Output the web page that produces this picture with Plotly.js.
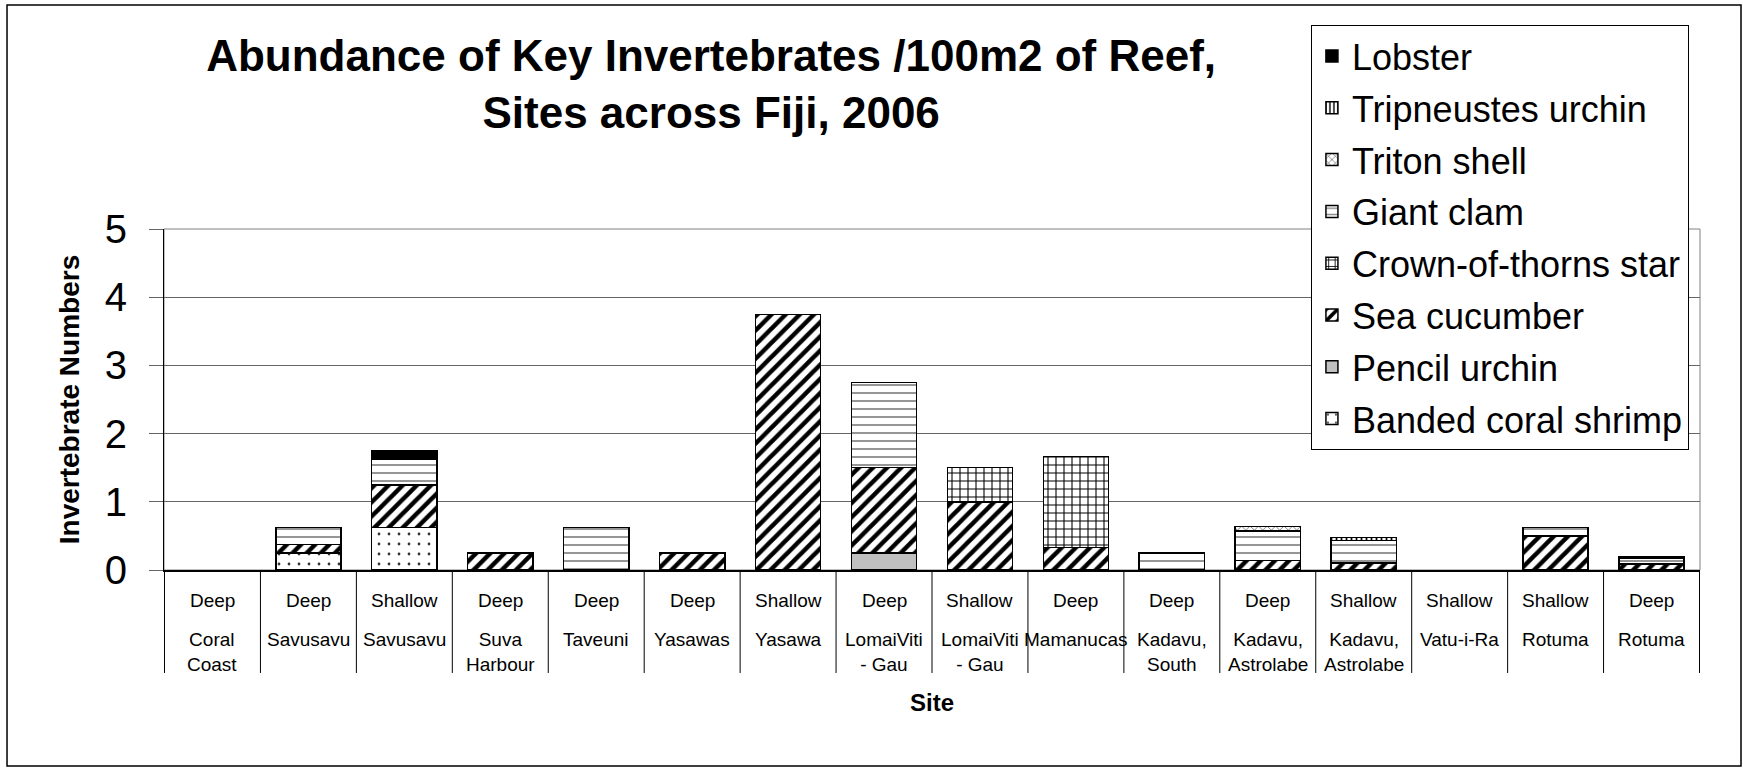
<!DOCTYPE html>
<html>
<head>
<meta charset="utf-8">
<script src="https://cdn.plot.ly/plotly-3.0.1.min.js"></script>
<style>
html,body{margin:0;padding:0;background:#fff;}
#chart{width:1743px;height:769px;}
</style>
</head>
<body>
<div id="chart"></div>
<script>
// ---- Data ----
const depths = ['Deep','Deep','Shallow','Deep','Deep','Deep','Shallow','Deep','Shallow','Deep','Deep','Deep','Shallow','Shallow','Shallow','Deep'];
const sites = ['Coral<br>Coast','Savusavu','Savusavu','Suva<br>Harbour','Taveuni','Yasawas','Yasawa','LomaiViti<br>- Gau','LomaiViti<br>- Gau','Mamanucas','Kadavu,<br>South','Kadavu,<br>Astrolabe','Kadavu,<br>Astrolabe','Vatu-i-Ra','Rotuma','Rotuma'];

const bandedCoralShrimp = [0,0.25,0.625,0,0,0,0,0,0,0,0,0,0,0,0,0];
const pencilUrchin      = [0,0,0,0,0,0,0,0.25,0,0,0,0,0,0,0,0];
const seaCucumber       = [0,0.125,0.625,0.25,0,0.25,3.75,1.25,1.0,0.333,0,0.14,0.1,0,0.5,0.09];
const crownOfThorns     = [0,0,0,0,0,0,0,0,0.5,1.333,0,0,0,0,0,0];
const giantClam         = [0,0.25,0.375,0,0.625,0,0,1.25,0,0,0.25,0.43,0.33,0,0.125,0.08];
const tritonShell       = [0,0,0,0,0,0,0,0,0,0,0,0.07,0,0,0,0];
const tripneustesUrchin = [0,0,0,0,0,0,0,0,0,0,0,0,0.05,0,0,0];
const lobster           = [0,0,0.125,0,0,0,0,0,0,0,0,0,0,0,0,0.03];

const yTicks = [0,1,2,3,4,5];

// ---- Build ----
const keys = depths.map((d,i)=> d + '|' + sites[i]);
const nz = arr => arr.map(v => v === 0 ? null : v);
const FONT = 'Liberation Sans, Arial, Helvetica, sans-serif';

const series = [
  {name:'Banded coral shrimp', y:bandedCoralShrimp, color:'#ffffff', pattern:{shape:'.', fgcolor:'#333', bgcolor:'#fff', size:10, solidity:0.06}},
  {name:'Pencil urchin', y:pencilUrchin, color:'#c0c0c0', pattern:null},
  {name:'Sea cucumber', y:seaCucumber, color:'#ffffff', pattern:{shape:'/', fgcolor:'#000', bgcolor:'#fff', size:10, solidity:0.45}},
  {name:'Crown-of-thorns star', y:crownOfThorns, color:'#ffffff', pattern:{shape:'+', fgcolor:'#000', bgcolor:'#fff', size:8, solidity:0.25}},
  {name:'Giant clam', y:giantClam, color:'#ffffff', pattern:{shape:'-', fgcolor:'#888', bgcolor:'#fff', size:8, solidity:0.22}},
  {name:'Triton shell', y:tritonShell, color:'#ffffff', pattern:{shape:'x', fgcolor:'#333', bgcolor:'#fff', size:6, solidity:0.2}},
  {name:'Tripneustes urchin', y:tripneustesUrchin, color:'#ffffff', pattern:{shape:'|', fgcolor:'#000', bgcolor:'#fff', size:5, solidity:0.35}},
  {name:'Lobster', y:lobster, color:'#000000', pattern:null}
];

const traces = series.map((s,i) => {
  const marker = {color:s.color, line:{color:'#000', width:1.5}};
  if (s.pattern) marker.pattern = s.pattern;
  return {type:'bar', name:s.name, x:keys, y:nz(s.y), marker, legendgroup:'g'+i,
    legendrank: series.length - i, hoverinfo:'name+y'};
});

const annotations = [];
keys.forEach((k,i) => {
  annotations.push({xref:'x', yref:'paper', x:k, y:-0.088, yanchor:'middle', xanchor:'center', showarrow:false,
    text:depths[i], font:{family:FONT, size:19, color:'#000'}});
  annotations.push({xref:'x', yref:'paper', x:k, y:-0.168, yanchor:'top', xanchor:'center', showarrow:false,
    text:sites[i], font:{family:FONT, size:19, color:'#000'}});
});

const shapes = [];
for (let i = 0; i <= keys.length; i++) {
  shapes.push({type:'line', xref:'x', yref:'paper', x0:i-0.5, x1:i-0.5, y0:0, y1:-0.302, line:{color:'#000', width:1}});
}
// plot area border
shapes.push({type:'rect', xref:'paper', yref:'paper', x0:0, x1:1, y0:0, y1:1, line:{color:'#808080', width:1}, layer:'below'});
// chart outer border
shapes.push({type:'rect', xref:'paper', yref:'paper', x0:-0.1022, x1:1.0267, y0:-0.575, y1:1.657, line:{color:'#000', width:1.5}});

const layout = {
  width:1743, height:769,
  margin:{l:164, r:43, t:229, b:199},
  paper_bgcolor:'#fff', plot_bgcolor:'#fff',
  font:{family:FONT, color:'#000'},
  barmode:'stack', bargap:0.32,
  title:{text:'<b>Abundance of Key Invertebrates /100m2 of Reef,<br>Sites across Fiji, 2006</b>',
    xref:'container', x:0.408, xanchor:'center', yref:'container', y:0.908, yanchor:'top',
    font:{family:FONT, size:44, color:'#000'}},
  xaxis:{type:'category', categoryorder:'array', categoryarray:keys, showticklabels:false, ticks:'',
    showgrid:false, showline:true, linecolor:'#000', linewidth:1.5, zeroline:false,
    title:{text:'<b>Site</b>', font:{family:FONT, size:24, color:'#000'}, standoff:123}},
  yaxis:{range:[0,5], tickvals:yTicks, ticktext:yTicks.map(String), ticks:'outside', ticklen:14, tickcolor:'#666',
    ticklabelstandoff:14,
    tickfont:{family:FONT, size:40, color:'#000'}, showgrid:true, gridcolor:'#666', gridwidth:1,
    showline:true, linecolor:'#000', linewidth:1, zeroline:false,
    title:{text:'<b>Invertebrate Numbers</b>', font:{family:FONT, size:28, color:'#000'}, standoff:16}},
  legend:{x:0.7467, y:1.598, xanchor:'left', yanchor:'top', traceorder:'grouped', tracegroupgap:2,
    maxheight:600,
    bgcolor:'#fff', bordercolor:'#000', borderwidth:1, font:{family:FONT, size:36, color:'#000'}},
  annotations, shapes,
  showlegend:true
};

Plotly.newPlot('chart', traces, layout, {displayModeBar:false, responsive:false});
</script>
</body>
</html>
